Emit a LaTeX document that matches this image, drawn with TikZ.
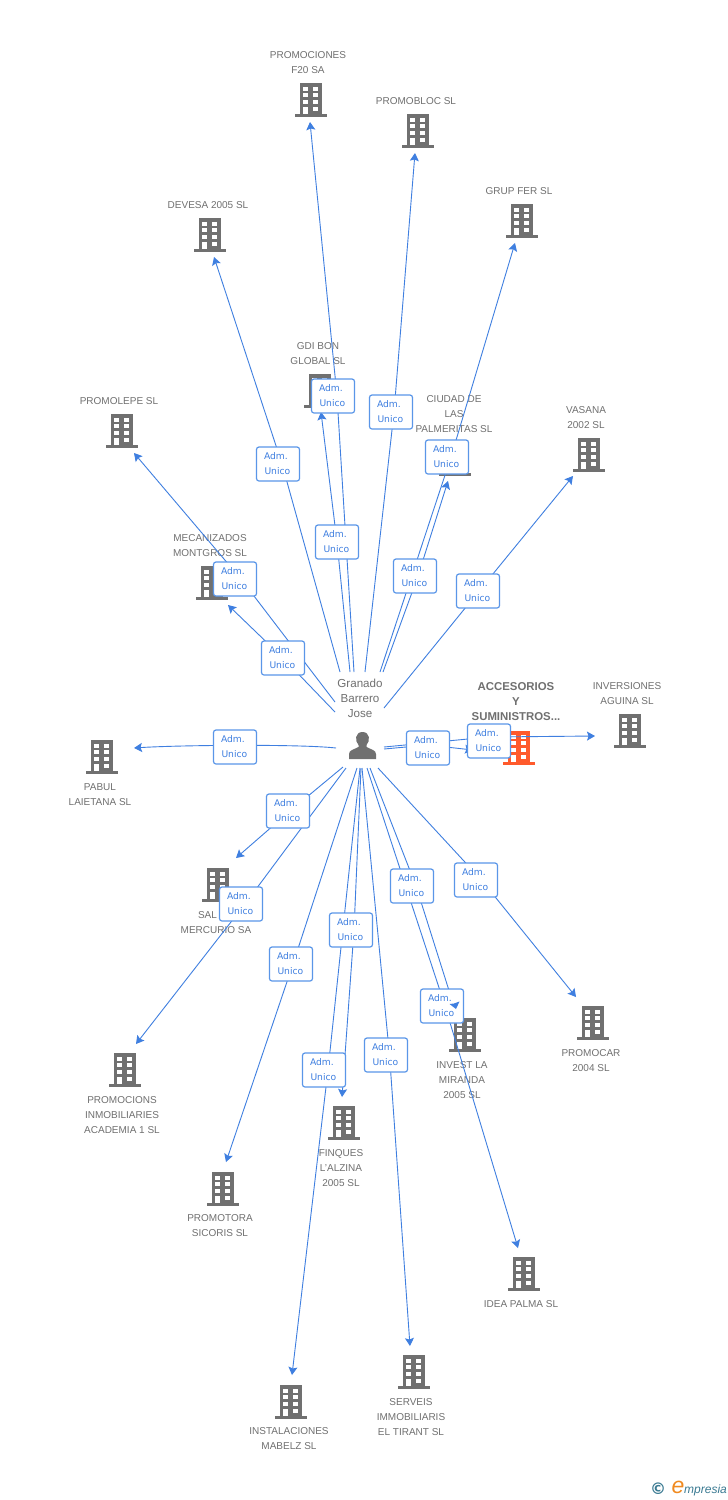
\documentclass[tikz,border=0pt]{standalone}
\usepackage{fontspec}
\setmainfont{Liberation Sans}
\newfontfamily\boxfont{DejaVu Sans}
\usetikzlibrary{arrows.meta}
\definecolor{edgeblue}{HTML}{3F7FE0}
\definecolor{boxblue}{HTML}{5A96E8}
\definecolor{iconGray}{HTML}{707070}
\definecolor{labelGray}{HTML}{707070}
\definecolor{mainOrange}{HTML}{FF5A2C}
\definecolor{logoTeal}{HTML}{3A7A92}
\definecolor{logoOrange}{HTML}{F08A20}
\tikzset{
  edgeline/.style={draw=edgeblue,line width=0.9pt},
  arrowline/.style={edgeline,-{Stealth[length=8pt,width=9pt,inset=1.5pt]}},
  admbox/.style={draw=boxblue,line width=1.2pt,fill=white,rounded corners=2.5pt,minimum width=43pt,minimum height=34pt,text width=43pt,inner sep=0pt,align=left,text=edgeblue,font=\boxfont\fontsize{9.2}{15}\selectfont},
  lbl/.style={text=labelGray,align=center,inner sep=0pt,yshift=-1pt,font=\fontsize{10}{15}\selectfont},
  mainlbl/.style={text=labelGray,align=center,inner sep=0pt,font=\bfseries\fontsize{11.4}{15}\selectfont},
}
\newcommand{\bldg}[3]{%
 \begin{scope}[shift={(#1,#2)}]
  \fill[#3] (-11.3,-16.7) rectangle (11.3,14);
  \fill[#3] (-16.3,14) rectangle (15.5,16.7);
  \foreach \yy in {-13.3,-6.7,0}{
    \fill[white] (-8,\yy) rectangle (-3,\yy+4);
    \fill[white] (2,\yy) rectangle (7,\yy+4);
  }
  \fill[white] (-8,6.7) rectangle (-3,14);
  \fill[white] (2,6.7) rectangle (7,10.7);
 \end{scope}}
\newcommand{\adm}[3]{\node[admbox] (#1) at (#2,#3) {\hspace*{7.5pt}\raisebox{-1.5pt}{Adm.}\\\hspace*{8pt}\raisebox{-1.5pt}{Unico}};}
\begin{document}
\begin{tikzpicture}[x=1pt,y=-1pt]
\useasboundingbox (0,0) rectangle (728,1500);
\fill[white] (0,0) rectangle (728,1500);
% buildings
\bldg{311}{100}{iconGray}
\bldg{418}{131}{iconGray}
\bldg{522}{221}{iconGray}
\bldg{210}{235}{iconGray}
\bldg{320}{391}{iconGray}
\bldg{455}{459}{iconGray}
\bldg{589}{455}{iconGray}
\bldg{122}{431}{iconGray}
\bldg{212}{583}{iconGray}
\bldg{102}{757}{iconGray}
\bldg{519}{748}{mainOrange}
\bldg{630}{731}{iconGray}
\bldg{218}{885}{iconGray}
\bldg{593}{1023}{iconGray}
\bldg{465}{1035}{iconGray}
\bldg{125}{1070}{iconGray}
\bldg{344}{1123}{iconGray}
\bldg{223}{1189}{iconGray}
\bldg{524}{1274}{iconGray}
\bldg{414}{1372}{iconGray}
\bldg{291}{1402}{iconGray}
% labels
\node[lbl] (lF) at (308,62) {PROMOCIONES\\F20 SA};
\node[lbl] (lPB) at (416,100) {PROMOBLOC SL};
\node[lbl] (lGF) at (519,190) {GRUP FER SL};
\node[lbl] (lDV) at (208,204) {DEVESA 2005 SL};
\node[lbl] (lGD) at (318,353) {GDI BON\\GLOBAL SL};
\node[lbl] (lCP) at (454,413) {CIUDAD DE\\LAS\\PALMERITAS SL};
\node[lbl] (lVS) at (586,417) {VASANA\\2002 SL};
\node[lbl] (lPL) at (119,400) {PROMOLEPE SL};
\node[lbl] (lMC) at (210,545) {MECANIZADOS\\MONTGROS SL};
\node[lbl] (lPA) at (100,794) {PABUL\\LAIETANA SL};
\node[mainlbl] (lMN) at (516,702) {ACCESORIOS\\Y\\SUMINISTROS...};
\node[lbl] (lIA) at (627,693) {INVERSIONES\\AGUINA SL};
\node[lbl] (lSM) at (216,922) {SAL\hspace*{17pt}\\MERCURIO SA};
\node[lbl] (lPC) at (591,1060) {PROMOCAR\\2004 SL};
\node[lbl] (lIM) at (462,1079) {INVEST LA\\MIRANDA\\2005 SL};
\node[lbl] (lAC) at (122,1114) {PROMOCIONS\\INMOBILIARIES\\ACADEMIA 1 SL};
\node[lbl] (lFQ) at (341,1167) {FINQUES\\L'ALZINA\\2005 SL};
\node[lbl] (lSC) at (220,1225) {PROMOTORA\\SICORIS SL};
\node[lbl] (lIP) at (521,1303) {IDEA PALMA SL};
\node[lbl] (lTR) at (411,1416) {SERVEIS\\IMMOBILIARIS\\EL TIRANT SL};
\node[lbl] (lMB) at (289,1438) {INSTALACIONES\\MABELZ SL};
% person
\node[text=labelGray,align=center,inner sep=0pt,font=\fontsize{11.6}{15}\selectfont] (plabel) at (360,698) {Granado\\Barrero\\Jose};
\fill[iconGray] (349,759) -- (349,754) .. controls (349,750) and (354,749.5) .. (358.5,747) -- (358.5,745) .. controls (354.5,741) and (355,732) .. (362.5,732) .. controls (370,732) and (370.5,741) .. (366.5,745) -- (366.5,747) .. controls (371,749.5) and (376,750) .. (376,754) -- (376,759) -- cycle;
\newcommand{\edge}[7]{%
 \coordinate (s#1) at (#2,#3);
 \coordinate (c#1) at (#4,#5);
 \coordinate (t#1) at (#6,#7);
 \draw[arrowline] (s#1) -- (c#1) -- (t#1);
}
\edge{a}{354}{672}{337}{396}{310}{122}
\edge{b}{350}{672}{337}{542}{321}{412}
\edge{c}{340}{672}{282}{464}{214}{257}
\edge{d}{365}{672}{394}{412}{415}{153}
\edge{e}{380}{672}{451}{457}{515}{243}
\edge{f}{383}{672}{418}{576}{448}{481}
\edge{g}{384}{708}{479}{591}{573}{476}
\edge{h}{335}{702}{241}{579}{134}{453}
\edge{i}{335}{712}{283}{658}{228}{605}
\edge{k}{343}{767}{290}{811}{236}{858}
\edge{l}{346}{768}{245}{904}{136}{1044}
\edge{m}{357}{768}{293}{964}{226}{1162}
\edge{n}{360}{768}{328}{1070}{292}{1375}
\edge{o}{361}{768}{354}{930}{342}{1097}
\edge{p}{362}{768}{389.5}{1055}{410}{1346}
\edge{q}{367}{768}{445}{1006}{518}{1248}
\edge{u}{378}{768}{481.5}{880}{576}{997}
% edge to INVEST LA MIRANDA: its line runs under the neighbouring box, its head over it
\coordinate (sr) at (370,768);
\coordinate (cr) at (416,886);
\coordinate (tr) at (452,1000);
\draw[edgeline] (sr) -- (cr) -- (tr);
% horizontal
\coordinate (sj) at (336,748);
\coordinate (tj) at (134,748);
\draw[arrowline] (sj) .. controls (300,744) and (180,745) .. (tj);
\coordinate (sv) at (384,747);
\coordinate (tv) at (595,736);
\coordinate (cv) at (489,737);
\draw[arrowline] (sv) -- (cv) -- (tv);
\coordinate (sw) at (384,749);
\coordinate (cw) at (428,745);
\coordinate (tw) at (473,750);
\draw[arrowline] (sw) -- (cw) -- (tw);
% adm boxes
\adm{ba}{333}{396}
\adm{bb}{337}{542}
\adm{bc}{278}{464}
\adm{bd}{391}{412}
\adm{be}{447}{457}
\adm{bf}{415}{576}
\adm{bg}{478}{591}
\adm{bh}{235}{579}
\adm{bi}{283}{658}
\adm{bj}{235}{747}
\adm{bw}{428}{748}
\adm{bv}{489}{741}
\adm{bk}{288}{811}
\adm{bl}{241}{904}
\adm{bm}{291}{964}
\adm{bn}{324}{1070}
\adm{bo}{351}{930}
\adm{bp}{386}{1055}
\adm{bq}{442}{1006}
\adm{br}{412}{886}
\adm{bu}{476}{880}
% arrowhead of the INVEST LA MIRANDA edge
\fill[edgeblue] (456,1009) -- (449.5,1004) -- (454,1003.5) -- (459.5,1001.5) -- cycle;
% logo
\node[text=logoTeal,inner sep=0pt,font=\boxfont\bfseries\fontsize{16}{16}\selectfont] (logoc) at (658,1489) {©};
\node[text=logoOrange,inner sep=0pt,font=\itshape\fontsize{23}{23}\selectfont] (logoe) at (678,1487) {e};
\node[text=logoTeal,inner sep=0pt,anchor=west,font=\itshape\fontsize{12}{12}\selectfont] (logom) at (684,1490) {mpresia};
\end{tikzpicture}
\end{document}
